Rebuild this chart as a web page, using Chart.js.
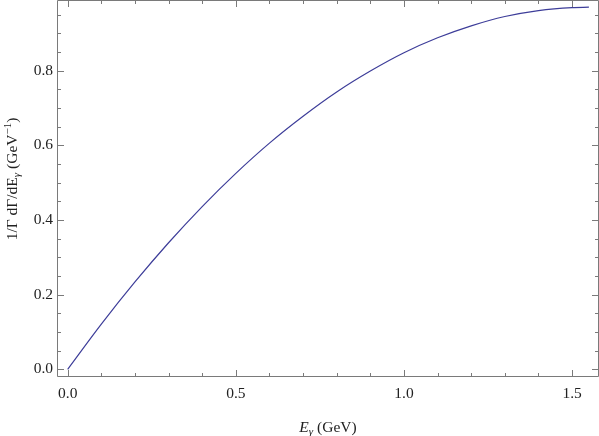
<!DOCTYPE html>
<html>
<head>
<meta charset="utf-8">
<title>Photon energy spectrum</title>
<script src="https://cdn.jsdelivr.net/npm/chart.js@4.4.1/dist/chart.umd.min.js"></script>
<style>
    html, body { margin: 0; padding: 0; background: #fff; }
    #wrap { width: 599px; height: 436px; }
</style>
</head>
<body>
<div id="wrap"><canvas id="spectrum" width="599" height="436"></canvas></div>
<script>
// E_gamma (GeV) and 1/Gamma dGamma/dE_gamma (GeV^-1)
const photonEnergy = [0, 0.1, 0.2, 0.3, 0.4, 0.5, 0.6, 0.7, 0.8, 0.9, 1.0, 1.1, 1.2, 1.3, 1.4, 1.5, 1.55];
const spectrum     = [0, 0.121, 0.234, 0.339, 0.436, 0.525, 0.606, 0.678, 0.743, 0.799, 0.848, 0.888, 0.920, 0.945, 0.961, 0.969, 0.970];

// frame ticks
const xMajorTicks = [0, 0.5, 1.0, 1.5];
const xMinorTicks = [0, 0.1, 0.2, 0.3, 0.4, 0.5, 0.6, 0.7, 0.8, 0.9, 1.0, 1.1, 1.2, 1.3, 1.4, 1.5];
const yMajorTicks = [0, 0.2, 0.4, 0.6, 0.8];
const yMinorTicks = [0, 0.05, 0.1, 0.15, 0.2, 0.25, 0.3, 0.35, 0.4, 0.45, 0.5, 0.55, 0.6, 0.65, 0.7, 0.75, 0.8, 0.85, 0.9, 0.95];

const serif = '"Liberation Serif", "Times New Roman", serif';
const frameColor = '#7a7a7a';
const textColor = '#222';

// draws a run of text pieces (font / vertical shift) centred on 0,0 of the current transform
function drawRuns(ctx, runs) {
    let total = 0;
    runs.forEach(r => { ctx.font = r.font; r.w = ctx.measureText(r.t).width; total += r.w; });
    let x = -total / 2;
    runs.forEach(r => {
        ctx.font = r.font;
        ctx.fillText(r.t, x, r.dy || 0);
        x += r.w;
    });
}

const framePlugin = {
    id: 'frame',
    afterDraw(chart) {
        const { ctx, chartArea: a } = chart;
        const xs = chart.scales.x, ys = chart.scales.y;
        ctx.save();
        ctx.strokeStyle = frameColor;
        ctx.lineWidth = 1;
        ctx.beginPath();
        ctx.rect(a.left + 0.5, a.top + 0.5, a.right - a.left - 1, a.bottom - a.top - 1);
        ctx.stroke();

        ctx.beginPath();
        xMinorTicks.forEach(v => {
            const px = Math.round(xs.getPixelForValue(v)) + 0.5;
            const len = xMajorTicks.includes(v) ? 7 : 4;
            ctx.moveTo(px, a.bottom); ctx.lineTo(px, a.bottom - len);
            ctx.moveTo(px, a.top); ctx.lineTo(px, a.top + len);
        });
        yMinorTicks.forEach(v => {
            const py = Math.round(ys.getPixelForValue(v)) + 0.5;
            const len = yMajorTicks.includes(v) ? 7 : 4;
            ctx.moveTo(a.left, py); ctx.lineTo(a.left + len, py);
            ctx.moveTo(a.right, py); ctx.lineTo(a.right - len, py);
        });
        ctx.stroke();

        // axis titles
        ctx.fillStyle = textColor;
        ctx.textBaseline = 'alphabetic';
        ctx.textAlign = 'left';
        const big = '15.5px ' + serif, bigIt = 'italic 15.5px ' + serif;
        const small = '11px ' + serif, smallIt = 'italic 11px ' + serif;

        ctx.save();
        ctx.translate((a.left + a.right) / 2, 432);
        drawRuns(ctx, [
            { t: 'E', font: bigIt },
            { t: 'γ', font: smallIt, dy: 3 },
            { t: ' (GeV)', font: big }
        ]);
        ctx.restore();

        ctx.save();
        ctx.translate(17, 179);
        ctx.rotate(-Math.PI / 2);
        drawRuns(ctx, [
            { t: '1/Γ dΓ/dE', font: big },
            { t: 'γ', font: smallIt, dy: 3 },
            { t: ' (GeV', font: big },
            { t: '−1', font: small, dy: -6 },
            { t: ')', font: big }
        ]);
        ctx.restore();
        ctx.restore();
    }
};

new Chart(document.getElementById('spectrum'), {
    type: 'line',
    data: {
        datasets: [{
            data: photonEnergy.map((e, i) => ({ x: e, y: spectrum[i] })),
            borderColor: '#3d3d99',
            borderWidth: 1.2,
            pointRadius: 0,
            fill: false,
            cubicInterpolationMode: 'monotone'
        }]
    },
    options: {
        responsive: false,
        animation: false,
        layout: { padding: 0 },
        plugins: { legend: { display: false }, tooltip: { enabled: false } },
        scales: {
            x: {
                type: 'linear',
                min: -0.0318,
                max: 1.580,
                afterFit(scale) {
                    scale.height = 59;
                    scale.paddingLeft = 0; scale.paddingRight = 0;
                },
                afterBuildTicks(scale) { scale.ticks = xMajorTicks.map(v => ({ value: v })); },
                grid: { display: false, drawTicks: false },
                border: { display: false },
                ticks: {
                    padding: 8,
                    color: textColor,
                    font: { family: serif, size: 15.5 },
                    callback: v => v.toFixed(1)
                }
            },
            y: {
                type: 'linear',
                min: -0.0206,
                max: 0.9893,
                afterFit(scale) {
                    scale.width = 57;
                    scale.paddingTop = 0; scale.paddingBottom = 0;
                },
                afterBuildTicks(scale) { scale.ticks = yMajorTicks.map(v => ({ value: v })); },
                grid: { display: false, drawTicks: false },
                border: { display: false },
                ticks: {
                    padding: 4,
                    color: textColor,
                    font: { family: serif, size: 15.5 },
                    callback: v => v.toFixed(1)
                }
            }
        }
    },
    plugins: [framePlugin]
});
</script>
</body>
</html>
